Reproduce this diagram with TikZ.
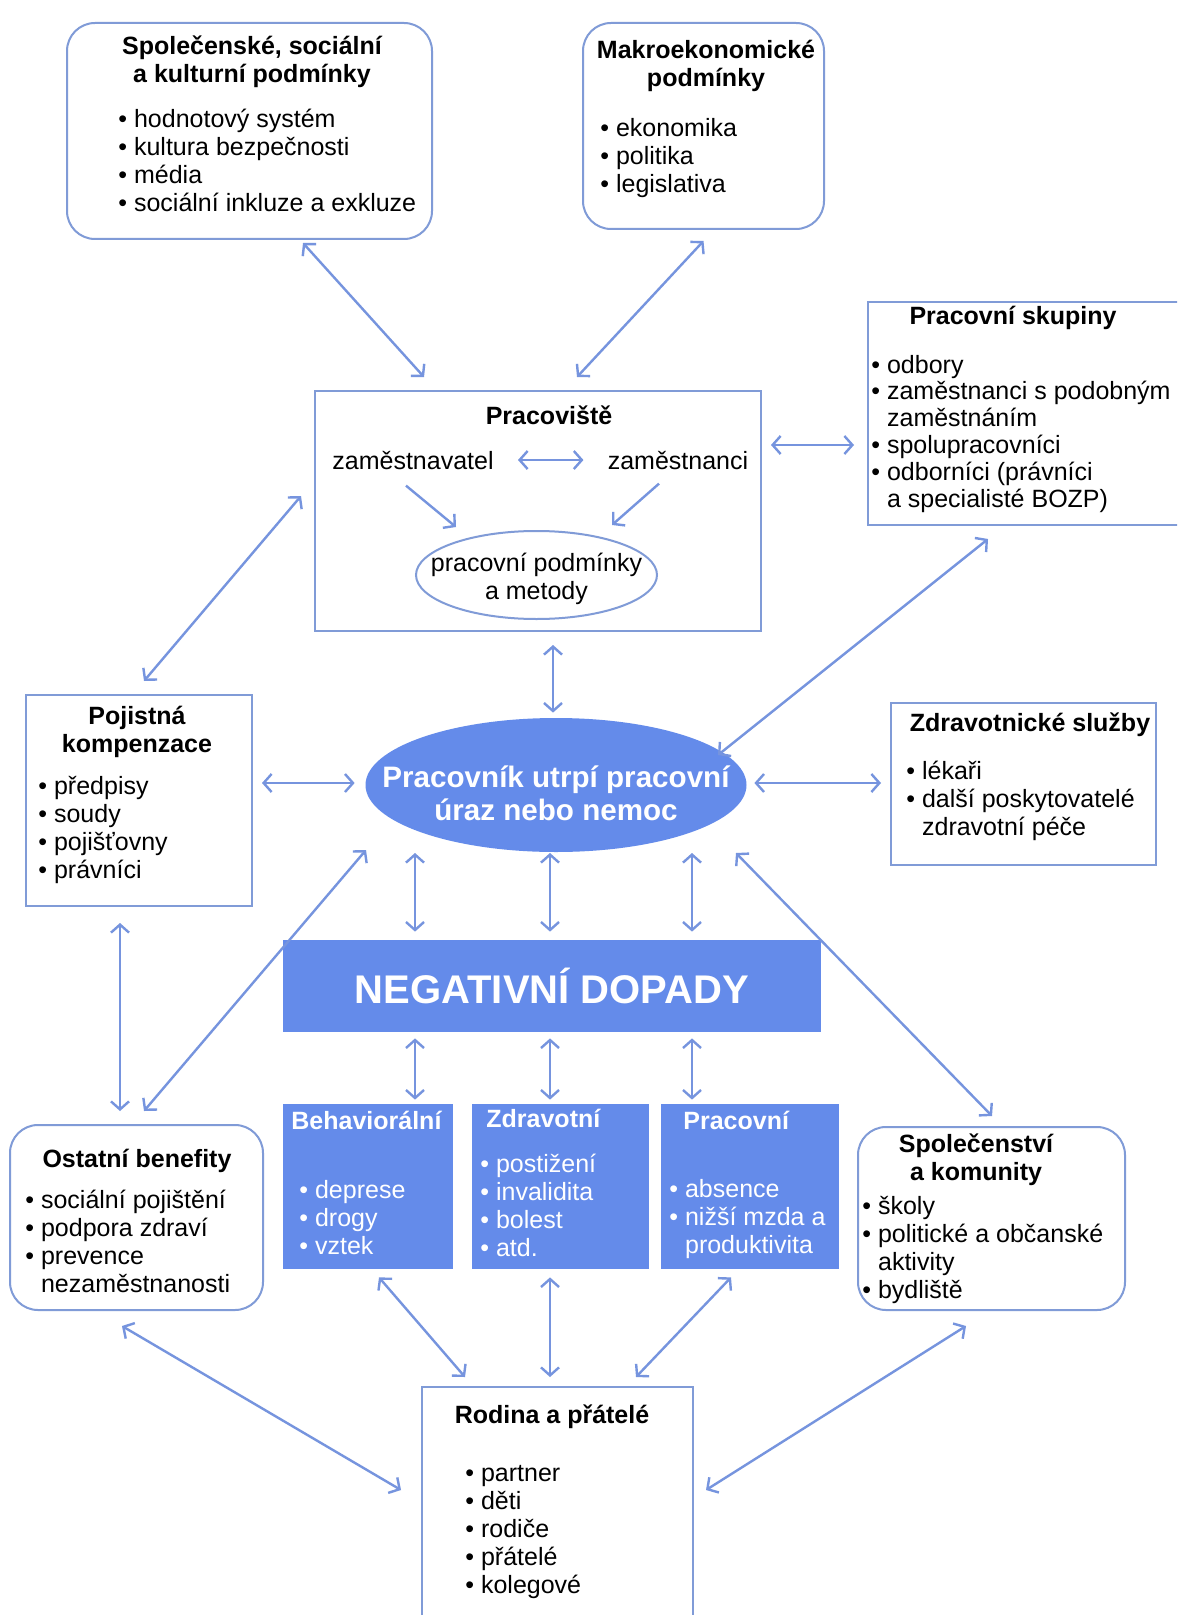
\documentclass[tikz,border=0pt]{standalone}
\usepackage{fontspec}
\setmainfont{Liberation Sans}
\usetikzlibrary{arrows.meta,shapes.geometric}
\definecolor{edgeblue}{RGB}{128,155,215}
\definecolor{arrowblue}{RGB}{118,148,222}
\definecolor{fillblue}{RGB}{100,139,234}

\begin{document}
\begin{tikzpicture}[x=0.5pt,y=-0.5pt,
  >={Straight Barb[length=4pt,width=9pt]},
  info_box/.style 2 args={draw=edgeblue,line width=1pt,inner sep=0pt,minimum width=#1*0.5pt,minimum height=#2*0.5pt},
  round_box/.style 2 args={info_box={#1}{#2},rounded corners=14pt},
  blue_box/.style 2 args={fill=fillblue,inner sep=0pt,minimum width=#1*0.5pt,minimum height=#2*0.5pt},
  box_title/.style={font=\fontsize{12.5}{14}\selectfont\bfseries,align=center,inner sep=0pt,anchor=base},
  box_list/.style={font=\fontsize{12.5}{14}\selectfont,align=left,inner sep=0pt,anchor=base west},
  plain_text/.style={font=\fontsize{12.5}{14}\selectfont,align=center,inner sep=0pt,anchor=base},
  link/.style={draw=arrowblue,line width=1.2pt,<->}]

  \useasboundingbox (0,0) rectangle (1177,1615);
  \fill[white] (0,0) rectangle (1177,1615);
  \clip (0,0) rectangle (1177,1615);

  % boxes
  \node[round_box={365}{216}] (social) at (249.5,131) {};
  \node[round_box={241}{206}] (macro) at (703.5,126) {};
  \node[info_box={332}{223}] (groups) at (1034,413.5) {};
  \node[info_box={446}{240}] (work) at (538,511) {};
  \node[ellipse,draw=edgeblue,line width=1pt,inner sep=0pt,minimum width=120.5pt,minimum height=44pt] (conditions) at (536.5,575) {};
  \node[info_box={226}{211}] (insurance) at (139,800.5) {};
  \node[ellipse,fill=fillblue,inner sep=0pt,minimum width=190.5pt,minimum height=67pt] (injury) at (556,785) {};
  \node[info_box={265}{162}] (health) at (1023.5,784) {};
  \node[blue_box={538}{92},text=white,font=\fontsize{20}{24}\selectfont\bfseries] (impacts) at (552,986) {NEGATIVNÍ DOPADY};
  \node[blue_box={170}{165}] (behav) at (368,1186.5) {};
  \node[blue_box={177}{165}] (medical) at (560.5,1186.5) {};
  \node[blue_box={178}{165}] (job) at (750,1186.5) {};
  \node[round_box={253}{185}] (benefits) at (136.5,1217.5) {};
  \node[round_box={267}{183}] (community) at (991.5,1218.5) {};
  \node[info_box={271}{263}] (family) at (557.5,1518.5) {};

  % texts (multi-line nodes sit on the baseline of their last line)
  \node[box_title] (socialtitle) at (252,83) {Společenské, sociální\\a kulturní podmínky};
  \node[box_list] (sociallist) at (118,212) {• hodnotový systém\\• kultura bezpečnosti\\• média\\• sociální inkluze a exkluze};
  \node[box_title] (macrotitle) at (706,87) {Makroekonomické\\podmínky};
  \node[box_list] (macrolist) at (600,193) {• ekonomika\\• politika\\• legislativa};
  \node[box_title] (groupstitle) at (1013,325) {Pracovní skupiny};
  \node[box_list,font=\fontsize{12.5}{13.4}\selectfont] (groupslist) at (871,507) {• odbory\\• zaměstnanci s podobným\\\hphantom{• }zaměstnáním\\• spolupracovníci\\• odborníci (právníci\\\hphantom{• }a specialisté BOZP)};
  \node[box_title] (worktitle) at (549,424) {Pracoviště};
  \node[plain_text] (employer) at (413,469) {zaměstnavatel};
  \node[plain_text] (employees) at (678,469) {zaměstnanci};
  \node[plain_text] (conditionstext) at (536.5,599) {pracovní podmínky\\a metody};
  \node[box_title] (insurancetitle) at (137,752) {Pojistná\\kompenzace};
  \node[box_list] (insurancelist) at (38,878) {• předpisy\\• soudy\\• pojišťovny\\• právníci};
  \node[box_title,text=white,font=\fontsize{14.8}{16.5}\selectfont\bfseries] (injurytext) at (556,820) {Pracovník utrpí pracovní\\úraz nebo nemoc};
  \node[box_title] (healthtitle) at (1030,731) {Zdravotnické služby};
  \node[box_list] (healthlist) at (906,835) {• lékaři\\• další poskytovatelé\\\hphantom{• }zdravotní péče};
  \node[box_title,anchor=base west,text=white] (behavtitle) at (291,1129) {Behaviorální};
  \node[box_list,text=white] (behavlist) at (299,1254) {• deprese\\• drogy\\• vztek};
  \node[box_title,anchor=base west,text=white] (medicaltitle) at (486,1127) {Zdravotní};
  \node[box_list,text=white] (medicallist) at (480,1256) {• postižení\\• invalidita\\• bolest\\• atd.};
  \node[box_title,anchor=base west,text=white] (jobtitle) at (683,1129) {Pracovní};
  \node[box_list,text=white] (joblist) at (669,1253) {• absence\\• nižší mzda a\\\hphantom{• }produktivita};
  \node[box_title] (benefitstitle) at (137,1167) {Ostatní benefity};
  \node[box_list] (benefitslist) at (25,1292) {• sociální pojištění\\• podpora zdraví\\• prevence\\\hphantom{• }nezaměstnanosti};
  \node[box_title] (communitytitle) at (976,1180) {Společenství\\a komunity};
  \node[box_list] (communitylist) at (862,1298) {• školy\\• politické a občanské\\\hphantom{• }aktivity\\• bydliště};
  \node[box_title] (familytitle) at (552,1423) {Rodina a přátelé};
  \node[box_list] (familylist) at (465,1593) {• partner\\• děti\\• rodiče\\• přátelé\\• kolegové};

  % connectors
  \draw[link,shorten <=12pt,shorten >=12pt] (employer) -- (employees);
  \draw[link,->] ([shift={(-7,16)}]employer.south) -- ([shift={(-80.5,-48)}]conditions.center);
  \draw[link,->] ([shift={(-19,14)}]employees.south) -- ([shift={(75.5,-50)}]conditions.center);

  \draw[link] ([shift={(53.5,3)}]social.south) -- ([shift={(-114,-13)}]work.north);
  \draw[link] ([shift={(0,11)}]macro.south) -- ([shift={(39,-13)}]work.north);
  \draw[link] ([shift={(9,-66)}]work.east) -- ([shift={(-13,31.5)}]groups.west);
  \draw[link] ([shift={(-13,-15)}]work.west) -- ([shift={(5,-13)}]insurance.north);
  \draw[link] ([shift={(121,13)}]groups.south west) -- ([shift={(162,-30)}]injury.center);
  \draw[link] ([shift={(15,13)}]work.south) -- ([shift={(-3,-5)}]injury.north);
  \draw[link] ([shift={(9,-17.5)}]insurance.east) -- ([shift={(-10.5,-2)}]injury.west);
  \draw[link] ([shift={(7.5,-2)}]injury.east) -- ([shift={(-9,-1)}]health.west);
  \draw[link] ([shift={(-19,16)}]insurance.south) -- ([shift={(-16.5,-13)}]benefits.north);
  \draw[link] ([shift={(7.5,-13)}]benefits.north) -- ([shift={(-190,65)}]injury.center);
  \draw[link] ([shift={(0.5,-10)}]community.north) -- ([shift={(180,68)}]injury.center);

  \foreach \a/\b in {-141/-137, -6/-2, 136/140}
    \draw[link] ([shift={(\a,68)}]injury.center) -- ([shift={(\b,-8)}]impacts.north);
  \foreach \b/\dest/\c in {-137/behav/47, -2/medical/-10.5, 140/job/-58}
    \draw[link] ([shift={(\b,6)}]impacts.south) -- ([shift={(\c,-4)}]\dest.north);

  \draw[link] ([shift={(11,8)}]behav.south) -- ([shift={(-92.5,-9)}]family.north);
  \draw[link] ([shift={(-10.5,8)}]medical.south) -- ([shift={(-7.5,-9)}]family.north);
  \draw[link] ([shift={(-19,8)}]job.south) -- ([shift={(78.5,-9)}]family.north);
  \draw[link] ([shift={(-14.5,15)}]benefits.south) -- ([shift={(-20,-28.5)}]family.west);
  \draw[link] ([shift={(-25.5,15)}]community.south) -- ([shift={(12,-28.5)}]family.east);

\end{tikzpicture}
\end{document}
